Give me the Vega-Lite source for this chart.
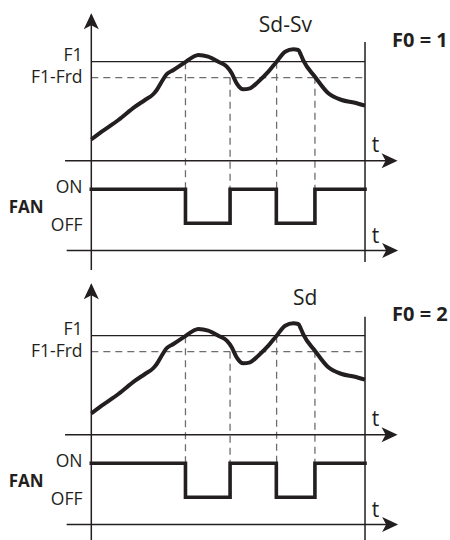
{
  "$schema": "https://vega.github.io/schema/vega-lite/v6.json",
  "padding": 0,
  "spacing": 0,
  "bounds": "flush",
  "config": {"view": {"stroke": null}, "text": {"font": "Open Sans", "color": "#231f20", "baseline": "alphabetic"}},
  "datasets": {
    "curve": [
      {"t": 0, "v": 21.2}, {"t": 3.8, "v": 29}, {"t": 9.9, "v": 40.7}, {"t": 16, "v": 54},
      {"t": 19.6, "v": 60.7}, {"t": 22.7, "v": 66.7}, {"t": 23.9, "v": 70.7}, {"t": 25.7, "v": 79},
      {"t": 27.5, "v": 86.4}, {"t": 30, "v": 90.7}, {"t": 34.2, "v": 98.4}, {"t": 37.3, "v": 104},
      {"t": 39.1, "v": 105.7}, {"t": 42.7, "v": 104}, {"t": 46.4, "v": 99}, {"t": 49.5, "v": 94},
      {"t": 51.3, "v": 87.4}, {"t": 53.1, "v": 77.4}, {"t": 55.5, "v": 71.4}, {"t": 58, "v": 72.4},
      {"t": 61, "v": 79}, {"t": 64.7, "v": 89}, {"t": 67.7, "v": 99}, {"t": 70.8, "v": 109},
      {"t": 73.8, "v": 111.4}, {"t": 75.6, "v": 110.7}, {"t": 76.6, "v": 105.7}, {"t": 77.5, "v": 100},
      {"t": 81.7, "v": 84}, {"t": 86.6, "v": 67.4}, {"t": 91.5, "v": 60.7}, {"t": 96.3, "v": 58},
      {"t": 100, "v": 55}
    ],
    "fan": [
      {"t": 0, "state": "ON", "v": -28.6},
      {"t": 34.4, "state": "OFF", "v": -62.6},
      {"t": 50.7, "state": "ON", "v": -28.6},
      {"t": 67.6, "state": "OFF", "v": -62.6},
      {"t": 81.7, "state": "ON", "v": -28.6},
      {"t": 100, "state": "ON", "v": -28.6}
    ],
    "rules": [
      {"panel": 0, "kind": "thin", "t": 0, "t2": 100, "v": 99, "v2": 99},
      {"panel": 0, "kind": "axis", "t": -9.6, "t2": 110, "v": 0, "v2": 0},
      {"panel": 0, "kind": "axis", "t": -9.0, "t2": 110, "v": -89.8, "v2": -89.8},
      {"panel": 1, "kind": "axis", "t": 0, "t2": 0, "v": -109.3, "v2": 146},
      {"panel": 2, "kind": "axis", "t": 0, "t2": 0, "v": -106, "v2": 150},
      {"panel": 1, "kind": "axis", "t": 100, "t2": 100, "v": -101.3, "v2": 118.7},
      {"panel": 2, "kind": "axis", "t": 100, "t2": 100, "v": -106, "v2": 118},
      {"panel": 0, "kind": "dash", "t": 0, "t2": 100, "v": 83, "v2": 83},
      {"panel": 0, "kind": "dash", "t": 34.4, "t2": 34.4, "v": 98.4, "v2": -62.6},
      {"panel": 0, "kind": "dash", "t": 50.7, "t2": 50.7, "v": 83, "v2": -62.6},
      {"panel": 0, "kind": "dash", "t": 67.7, "t2": 67.7, "v": 99, "v2": -62.6},
      {"panel": 0, "kind": "dash", "t": 81.7, "t2": 81.7, "v": 84, "v2": -62.6}
    ],
    "arrows": [
      {"panel": 0, "dir": "right", "t": 111.9, "v": 0},
      {"panel": 0, "dir": "right", "t": 112.1, "v": -89.8},
      {"panel": 1, "dir": "up", "t": 0, "v": 147.4},
      {"panel": 2, "dir": "up", "t": 0, "v": 151.4}
    ],
    "labels": [
      {"panel": 0, "role": "level", "text": "F1", "t": -3.2, "v": 99.6},
      {"panel": 0, "role": "level", "text": "F1-Frd", "t": -3.2, "v": 77.6},
      {"panel": 0, "role": "level", "text": "ON", "t": -3.2, "v": -32.5},
      {"panel": 0, "role": "level", "text": "OFF", "t": -3.2, "v": -70.5},
      {"panel": 0, "role": "fan", "text": "FAN", "t": -30.2, "v": -52.5},
      {"panel": 0, "role": "axis", "text": "t", "t": 103.8, "v": 8.7},
      {"panel": 0, "role": "axis", "text": "t", "t": 103.8, "v": -82.3},
      {"panel": 1, "role": "signal", "text": "Sd-Sv", "t": 70.9, "v": 129},
      {"panel": 2, "role": "signal", "text": "Sd", "t": 78.1, "v": 129.7},
      {"panel": 1, "role": "mode", "text": "F0 = 1", "t": 109.9, "v": 113.7},
      {"panel": 2, "role": "mode", "text": "F0 = 2", "t": 109.9, "v": 114}
    ]
  },
  "vconcat": [
    {
      "width": 450,
      "height": 274,
      "encoding": {
        "x": {"field": "t", "type": "quantitative", "scale": {"domain": [-33.36, 131.05], "nice": false, "zero": false}, "axis": null},
        "y": {"field": "v", "type": "quantitative", "scale": {"domain": [-113.3, 160.7], "nice": false, "zero": false}, "axis": null}
      },
      "layer": [
        {"data": {"name": "rules"}, "transform": [{"filter": "datum.kind == 'dash' && datum.panel != 2"}],
         "mark": {"type": "rule", "color": "#6e6e6e", "strokeWidth": 1.3, "strokeDash": [7, 5]},
         "encoding": {"x2": {"field": "t2"}, "y2": {"field": "v2"}}},
        {"data": {"name": "rules"}, "transform": [{"filter": "datum.kind == 'thin' && datum.panel != 2"}],
         "mark": {"type": "rule", "color": "#231f20", "strokeWidth": 1.2},
         "encoding": {"x2": {"field": "t2"}, "y2": {"field": "v2"}}},
        {"data": {"name": "rules"}, "transform": [{"filter": "datum.kind == 'axis' && datum.panel != 2"}],
         "mark": {"type": "rule", "color": "#231f20", "strokeWidth": 1.5},
         "encoding": {"x2": {"field": "t2"}, "y2": {"field": "v2"}}},
        {"data": {"name": "arrows"}, "transform": [{"filter": "datum.panel != 2"}],
         "mark": {"type": "point", "filled": true, "color": "#231f20", "opacity": 1, "size": 256, "strokeWidth": 0},
         "encoding": {"shape": {"field": "dir", "type": "nominal", "legend": null,
           "scale": {"domain": ["up", "right"], "range": ["M0,0L-0.94,2L0,1.5L0.94,2Z", "M0,0L-2,-0.94L-1.5,0L-2,0.94Z"]}}}},
        {"data": {"name": "fan"},
         "mark": {"type": "line", "interpolate": "step-after", "color": "#231f20", "strokeWidth": 3.6, "strokeJoin": "miter", "strokeCap": "square"}},
        {"data": {"name": "curve"},
         "mark": {"type": "line", "interpolate": "monotone", "color": "#231f20", "strokeWidth": 4, "strokeJoin": "round", "strokeCap": "butt"}},
        {"data": {"name": "labels"}, "transform": [{"filter": "datum.role == 'level' && datum.panel != 2"}],
         "mark": {"type": "text", "align": "right", "baseline": "alphabetic", "fontSize": 17.5},
         "encoding": {"text": {"field": "text"}}},
        {"data": {"name": "labels"}, "transform": [{"filter": "datum.role == 'fan' && datum.panel != 2"}],
         "mark": {"type": "text", "align": "left", "baseline": "alphabetic", "fontSize": 17, "fontWeight": "bold"},
         "encoding": {"text": {"field": "text"}}},
        {"data": {"name": "labels"}, "transform": [{"filter": "datum.role == 'axis' && datum.panel != 2"}],
         "mark": {"type": "text", "align": "center", "baseline": "alphabetic", "fontSize": 21},
         "encoding": {"text": {"field": "text"}}},
        {"data": {"name": "labels"}, "transform": [{"filter": "datum.role == 'signal' && datum.panel != 2"}],
         "mark": {"type": "text", "align": "center", "baseline": "alphabetic", "fontSize": 21},
         "encoding": {"text": {"field": "text"}}},
        {"data": {"name": "labels"}, "transform": [{"filter": "datum.role == 'mode' && datum.panel != 2"}],
         "mark": {"type": "text", "align": "left", "baseline": "alphabetic", "fontSize": 20, "fontWeight": "bold"},
         "encoding": {"text": {"field": "text"}}}
      ]
    },
    {
      "width": 450,
      "height": 266,
      "encoding": {
        "x": {"field": "t", "type": "quantitative", "scale": {"domain": [-33.36, 131.05], "nice": false, "zero": false}, "axis": null},
        "y": {"field": "v", "type": "quantitative", "scale": {"domain": [-105.3, 160.7], "nice": false, "zero": false}, "axis": null}
      },
      "layer": [
        {"data": {"name": "rules"}, "transform": [{"filter": "datum.kind == 'dash' && datum.panel != 1"}],
         "mark": {"type": "rule", "color": "#6e6e6e", "strokeWidth": 1.3, "strokeDash": [7, 5]},
         "encoding": {"x2": {"field": "t2"}, "y2": {"field": "v2"}}},
        {"data": {"name": "rules"}, "transform": [{"filter": "datum.kind == 'thin' && datum.panel != 1"}],
         "mark": {"type": "rule", "color": "#231f20", "strokeWidth": 1.2},
         "encoding": {"x2": {"field": "t2"}, "y2": {"field": "v2"}}},
        {"data": {"name": "rules"}, "transform": [{"filter": "datum.kind == 'axis' && datum.panel != 1"}],
         "mark": {"type": "rule", "color": "#231f20", "strokeWidth": 1.5},
         "encoding": {"x2": {"field": "t2"}, "y2": {"field": "v2"}}},
        {"data": {"name": "arrows"}, "transform": [{"filter": "datum.panel != 1"}],
         "mark": {"type": "point", "filled": true, "color": "#231f20", "opacity": 1, "size": 256, "strokeWidth": 0},
         "encoding": {"shape": {"field": "dir", "type": "nominal", "legend": null,
           "scale": {"domain": ["up", "right"], "range": ["M0,0L-0.94,2L0,1.5L0.94,2Z", "M0,0L-2,-0.94L-1.5,0L-2,0.94Z"]}}}},
        {"data": {"name": "fan"},
         "mark": {"type": "line", "interpolate": "step-after", "color": "#231f20", "strokeWidth": 3.6, "strokeJoin": "miter", "strokeCap": "square"}},
        {"data": {"name": "curve"},
         "mark": {"type": "line", "interpolate": "monotone", "color": "#231f20", "strokeWidth": 4, "strokeJoin": "round", "strokeCap": "butt"}},
        {"data": {"name": "labels"}, "transform": [{"filter": "datum.role == 'level' && datum.panel != 1"}],
         "mark": {"type": "text", "align": "right", "baseline": "alphabetic", "fontSize": 17.5},
         "encoding": {"text": {"field": "text"}}},
        {"data": {"name": "labels"}, "transform": [{"filter": "datum.role == 'fan' && datum.panel != 1"}],
         "mark": {"type": "text", "align": "left", "baseline": "alphabetic", "fontSize": 17, "fontWeight": "bold"},
         "encoding": {"text": {"field": "text"}}},
        {"data": {"name": "labels"}, "transform": [{"filter": "datum.role == 'axis' && datum.panel != 1"}],
         "mark": {"type": "text", "align": "center", "baseline": "alphabetic", "fontSize": 21},
         "encoding": {"text": {"field": "text"}}},
        {"data": {"name": "labels"}, "transform": [{"filter": "datum.role == 'signal' && datum.panel != 1"}],
         "mark": {"type": "text", "align": "center", "baseline": "alphabetic", "fontSize": 21},
         "encoding": {"text": {"field": "text"}}},
        {"data": {"name": "labels"}, "transform": [{"filter": "datum.role == 'mode' && datum.panel != 1"}],
         "mark": {"type": "text", "align": "left", "baseline": "alphabetic", "fontSize": 20, "fontWeight": "bold"},
         "encoding": {"text": {"field": "text"}}}
      ]
    }
  ]
}
